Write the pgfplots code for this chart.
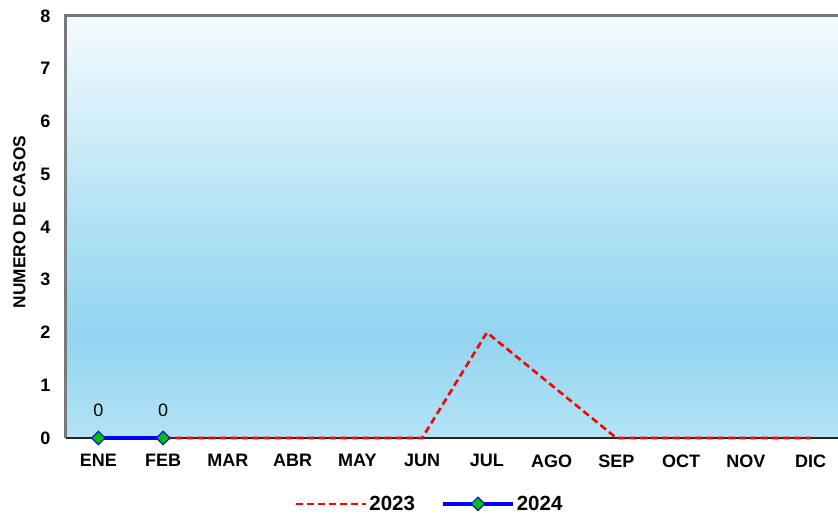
\documentclass[border=0pt]{standalone}
\usepackage{pgfplots}
\pgfplotsset{compat=1.18}
\usepackage{fontspec}
\setmainfont{Liberation Sans}
\definecolor{bgtop}{RGB}{245,251,254}
\definecolor{bgmid}{RGB}{146,213,240}
\definecolor{bgbot}{RGB}{180,227,246}
\definecolor{mkgreen}{RGB}{0,190,0}
\pgfdeclareverticalshading{bgshade}{100bp}{color(0bp)=(bgbot); color(25bp)=(bgbot); color(37bp)=(bgmid); color(50bp)=(bgmid!70!bgtop); color(75bp)=(bgtop); color(100bp)=(bgtop)}
\begin{document}
\begin{tikzpicture}
\begin{axis}[
  scale only axis,
  width=777pt, height=422pt,
  xmin=-0.5, xmax=11.5,
  ymin=0, ymax=8,
  ytick={0,1,...,8},
  xtick={0,...,11},
  xticklabels={ENE,FEB,MAR,ABR,MAY,JUN,JUL,AGO,SEP,OCT,NOV,DIC},
  major tick length=0pt,
  axis line style={draw=none},
  axis background/.style={shading=bgshade},
  tick label style={font=\fontsize{18}{21}\selectfont\bfseries},
  /pgf/number format/assume math mode=true,
  yticklabel style={xshift=-12pt},
  xticklabel style={yshift=-13pt},
  ylabel={NUMERO DE CASOS},
  ylabel style={font=\fontsize{17.3}{20}\selectfont\bfseries, yshift=8pt, xshift=5pt},
  clip=false,
  legend columns=2,
  legend style={draw=none, fill=none, at={(rel axis cs:0.468,-0.156)}, anchor=center,
    font=\fontsize{20.5}{23}\selectfont\bfseries, /tikz/every even column/.append style={column sep=24pt}},
  legend image code/.code={\draw[#1] (0pt,0pt) -- (70pt,0pt); \path[#1, solid] plot coordinates {(35pt,0pt)};},
]
\draw[draw=gray!95!black, line width=3pt] (rel axis cs:0,0) -- (rel axis cs:0,1) -- (rel axis cs:1.02,1);
\draw[draw=black!85, line width=1.8pt] (rel axis cs:0,0) -- (rel axis cs:1,0);
\addplot[red, line width=2.6pt, dash pattern=on 7pt off 4pt, no marks] coordinates {
(0,0) (1,0) (2,0) (3,0) (4,0) (5,0) (6,2) (7,1) (8,0) (9,0) (10,0) (11,0)};
\addlegendentry{2023}
\addplot[blue, line width=3.8pt, mark=square*, mark size=4.8pt,
  mark options={fill=mkgreen, draw=blue, line width=1pt, solid, rotate=45},
  nodes near coords, every node near coord/.append style={font=\fontsize{18}{21}\selectfont, black, yshift=17pt}] coordinates {
(0,0) (1,0)};
\addlegendentry{2024}
\end{axis}
\pgfresetboundingbox
\path ([shift={(-66pt,-76pt)}]current axis.south west) rectangle ([shift={(772pt,16pt)}]current axis.north west);
\end{tikzpicture}
\end{document}
